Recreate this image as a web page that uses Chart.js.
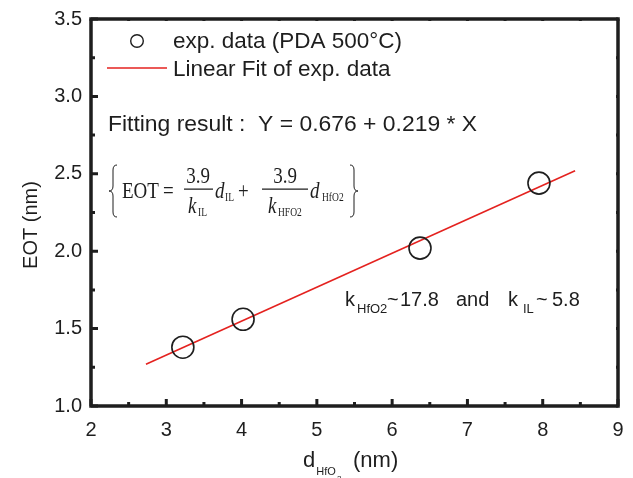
<!DOCTYPE html>
<html>
<head>
<meta charset="utf-8">
<script src="https://cdn.jsdelivr.net/npm/chart.js@4/dist/chart.umd.min.js"></script>
<style>
    body { margin: 0; background: #fff; }
    canvas { display: block; }
</style>
</head>
<body>
<canvas id="eotChart" width="633" height="478"></canvas>
<script>
// values
const thicknessHfO2 = [3.22, 4.02, 6.37, 7.95];
const eotValues = [1.38, 1.56, 2.02, 2.44];
const fitX = [2.73, 8.43];
const fitY = [1.27, 2.52];
const xTickValues = [2, 3, 4, 5, 6, 7, 8, 9];
const yTickValues = [1.0, 1.5, 2.0, 2.5, 3.0, 3.5];

const INK = '#1e1e1e',
    RED = '#e4221f',
    SANS = '"Liberation Sans", Arial, Helvetica, sans-serif',
    SERIF = '"Liberation Serif", "Times New Roman", serif';

function txt(ctx, s, x, y, size, opts) {
    opts = opts || {};
    ctx.font = (opts.italic ? 'italic ' : '') + size + 'px ' + (opts.serif ? SERIF : SANS);
    ctx.fillStyle = opts.color || INK;
    ctx.textAlign = opts.align || 'left';
    ctx.textBaseline = opts.baseline || 'alphabetic';
    ctx.fillText(s, x, y);
    return ctx.measureText(s).width;
}

// thin curly brace, dir 1 = opening, -1 = closing
function brace(ctx, x, top, bottom, dir) {
    let mid = (top + bottom) / 2,
        w = 4 * dir;
    ctx.beginPath();
    ctx.moveTo(x + w, top);
    ctx.quadraticCurveTo(x, top, x, top + 5);
    ctx.lineTo(x, mid - 5);
    ctx.quadraticCurveTo(x, mid, x - w, mid);
    ctx.quadraticCurveTo(x, mid, x, mid + 5);
    ctx.lineTo(x, bottom - 5);
    ctx.quadraticCurveTo(x, bottom, x + w, bottom);
    ctx.stroke();
}

// frame, inward ticks and all the text
const decorations = {
    id: 'decorations',
    afterDraw(chart) {
        let ctx = chart.ctx,
            a = chart.chartArea,
            xs = chart.scales.x,
            ys = chart.scales.y;

        ctx.save();
        ctx.strokeStyle = INK;
        ctx.lineWidth = 3;
        ctx.lineCap = 'butt';

        // minor + major ticks
        for (let v = 2; v <= 9.001; v += 0.5) {
            let px = xs.getPixelForValue(v),
                major = Math.abs(v - Math.round(v)) < 0.01,
                len = major ? 7 : 4;
            ctx.beginPath();
            ctx.moveTo(px, a.bottom);
            ctx.lineTo(px, a.bottom - len);
            ctx.moveTo(px, a.top);
            ctx.lineTo(px, a.top + 2);
            ctx.stroke();
        }
        for (let v = 1; v <= 3.501; v += 0.25) {
            let py = ys.getPixelForValue(v),
                major = Math.abs(v * 2 - Math.round(v * 2)) < 0.01,
                len = major ? 7 : 4;
            ctx.beginPath();
            ctx.moveTo(a.left, py);
            ctx.lineTo(a.left + len, py);
            ctx.moveTo(a.right, py);
            ctx.lineTo(a.right - 2, py);
            ctx.stroke();
        }

        ctx.lineWidth = 3.5;
        ctx.strokeRect(a.left, a.top, a.right - a.left, a.bottom - a.top);

        // tick labels
        xTickValues.forEach(function (v) {
            txt(ctx, String(v), xs.getPixelForValue(v), 436, 20, { align: 'center' });
        });
        yTickValues.forEach(function (v) {
            txt(ctx, v.toFixed(1), a.left - 9, ys.getPixelForValue(v), 20, { align: 'right', baseline: 'middle' });
        });

        // axis titles
        ctx.save();
        ctx.translate(37, 225);
        ctx.rotate(-Math.PI / 2);
        txt(ctx, 'EOT (nm)', 0, 0, 20, { align: 'center' });
        ctx.restore();

        let w = txt(ctx, 'd', 303, 467, 22);
        txt(ctx, 'HfO', 303 + w + 1, 475, 11);
        txt(ctx, '2', 337, 481, 8);
        txt(ctx, '(nm)', 353, 467, 22);

        // legend
        ctx.beginPath();
        ctx.lineWidth = 1.4;
        ctx.arc(137, 41, 6.3, 0, Math.PI * 2);
        ctx.stroke();
        txt(ctx, 'exp. data (PDA 500\u00b0C)', 173, 48, 22.5);
        ctx.beginPath();
        ctx.strokeStyle = RED;
        ctx.lineWidth = 1.6;
        ctx.moveTo(107, 68);
        ctx.lineTo(167, 68);
        ctx.stroke();
        txt(ctx, 'Linear Fit of exp. data', 173, 76, 22.5);

        txt(ctx, 'Fitting result :  Y = 0.676 + 0.219 * X', 108, 131, 22.9);

        // EOT equation (typeset a little taller than wide, like the figure)
        ctx.strokeStyle = INK;
        ctx.lineWidth = 1;
        brace(ctx, 113, 165, 217, 1);
        brace(ctx, 354, 165, 217, -1);

        ctx.save();
        ctx.translate(0, 189);
        ctx.scale(1, 1.25);
        txt(ctx, 'EOT', 122, 7.5, 19, { serif: true });
        txt(ctx, '=', 163, 7, 19, { serif: true });
        txt(ctx, '3.9', 198, -5, 19, { serif: true, align: 'center' });
        txt(ctx, '3.9', 285, -5, 19, { serif: true, align: 'center' });
        ctx.lineWidth = 1;
        ctx.beginPath();
        ctx.moveTo(184, 0);
        ctx.lineTo(213, 0);
        ctx.moveTo(262, 0);
        ctx.lineTo(308, 0);
        ctx.stroke();
        txt(ctx, 'k', 188, 19, 19, { serif: true, italic: true });
        txt(ctx, 'IL', 198, 21.5, 9.5, { serif: true });
        txt(ctx, 'd', 215, 7.5, 19, { serif: true, italic: true });
        txt(ctx, 'IL', 225, 9.5, 9.5, { serif: true });
        txt(ctx, '+', 238, 7, 19, { serif: true });
        txt(ctx, 'k', 268, 19, 19, { serif: true, italic: true });
        txt(ctx, 'HFO2', 278, 21.5, 9.5, { serif: true });
        txt(ctx, 'd', 310, 7.5, 19, { serif: true, italic: true });
        txt(ctx, 'HfO2', 322, 9.5, 9.5, { serif: true });
        ctx.restore();

        // k values
        txt(ctx, 'k', 345, 306, 20);
        txt(ctx, 'HfO2', 357, 313, 13);
        txt(ctx, '~', 387, 306, 20);
        txt(ctx, '17.8', 400, 306, 20);
        txt(ctx, 'and', 456, 306, 20);
        txt(ctx, 'k', 508, 306, 20);
        txt(ctx, 'IL', 523, 313, 13);
        txt(ctx, '~', 536, 306, 20);
        txt(ctx, '5.8', 552, 306, 20);

        ctx.restore();
    }
};

let ctx = document.getElementById('eotChart'),
    eotChart = new Chart(ctx, {
        type: 'scatter',
        data: {
            datasets: [{
                label: 'exp. data (PDA 500\u00b0C)',
                data: thicknessHfO2.map(function (x, i) { return { x: x, y: eotValues[i] }; }),
                pointRadius: 11,
                pointBorderWidth: 1.6,
                pointBorderColor: INK,
                pointBackgroundColor: 'rgba(0,0,0,0)',
                order: 1
            }, {
                type: 'line',
                label: 'Linear Fit of exp. data',
                data: fitX.map(function (x, i) { return { x: x, y: fitY[i] }; }),
                borderColor: RED,
                borderWidth: 1.6,
                pointRadius: 0,
                fill: false,
                order: 2
            }]
        },
        options: {
            responsive: false,
            animation: false,
            layout: { padding: { top: 19, right: 15, left: 0, bottom: 0 } },
            plugins: { legend: { display: false }, tooltip: { enabled: false } },
            scales: {
                x: {
                    type: 'linear', min: 2, max: 9,
                    ticks: { display: false },
                    grid: { display: false, drawTicks: false },
                    border: { display: false },
                    afterFit: function (s) { s.height = 72; }
                },
                y: {
                    type: 'linear', min: 1, max: 3.5,
                    ticks: { display: false },
                    grid: { display: false, drawTicks: false },
                    border: { display: false },
                    afterFit: function (s) { s.width = 91; }
                }
            }
        },
        plugins: [decorations]
    });
</script>
</body>
</html>
